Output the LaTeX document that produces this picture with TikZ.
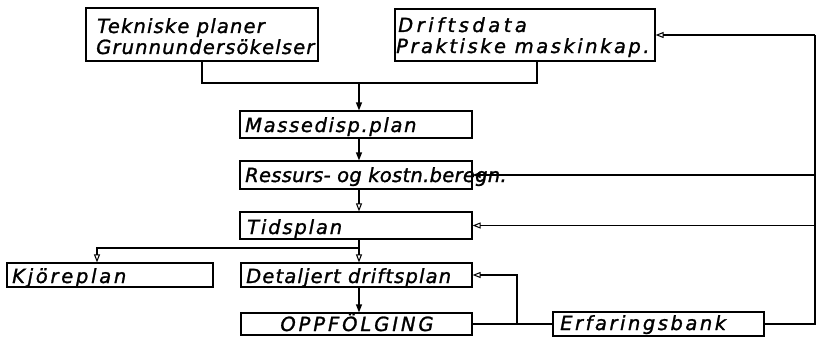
\documentclass[tikz,border=0pt]{standalone}
\usepackage{fontspec}
\newfontfamily\letterfont{DejaVu Sans Oblique}[FakeBold=1.3]
\usetikzlibrary{arrows.meta,calc}
% letter-spaced run of lettering
\newcommand{\spaced}[2]{{\addfontfeatures{LetterSpace=#1}#2}}
\tikzset{
  box/.style={draw, line width=1.2pt, rectangle, inner sep=0pt},
  lettering/.style={inner sep=0pt, font=\fontsize{19.5}{19.5}\letterfont},
  wire/.style={line width=1.2pt},
  openarr/.style={wire, -{Triangle[open,length=8pt,width=6pt,line width=1pt]}},
  fullarr/.style={wire, -{Triangle[length=8pt,width=6pt]}},
}
\begin{document}
\begin{tikzpicture}[x=1pt,y=-1pt]
\useasboundingbox (0,0) rectangle (816,337);

% boxes
\node[box, minimum width=232pt, minimum height=53pt] (tek)   at (202,34.5) {};
\node[box, minimum width=260pt, minimum height=52pt] (drift) at (525,35) {};
\node[box, minimum width=232pt, minimum height=27pt] (mass)  at (356,124.5) {};
\node[box, minimum width=232pt, minimum height=28pt] (ress)  at (356,175) {};
\node[box, minimum width=232pt, minimum height=27pt] (tids)  at (356,225.5) {};
\node[box, minimum width=206pt, minimum height=24pt] (kjor)  at (110,275) {};
\node[box, minimum width=231pt, minimum height=24pt] (detal) at (356.5,275) {};
\node[box, minimum width=231pt, minimum height=22pt] (oppf)  at (356.5,324) {};
\node[box, minimum width=211pt, minimum height=24pt] (erf)   at (658.5,324) {};

% lettering
\node[lettering, anchor=base west] (tekA) at (97,33) {\spaced{6}{Tekniske planer}};
\node[lettering, anchor=base west] (tekB) at (96,54) {\spaced{6}{Grunnundersökelser}};
\node[lettering, anchor=base west] (drA) at (398,32) {\spaced{18}{Driftsdata}};
\node[lettering, anchor=base west] (drB) at (396,53) {\spaced{13}{Praktiske maskinkap.}};
\node[lettering, anchor=base west] (massT) at (245,132) {\spaced{8.5}{Massedisp.plan}};
\node[lettering, anchor=base west] (ressT) at (245,182) {\spaced{1.5}{Ressurs- og kostn.beregn.}};
\node[lettering, anchor=base west] (tidsT) at (247,234) {\spaced{9.5}{Tidsplan}};
\node[lettering, anchor=base west] (kjorT) at (12,283) {\spaced{14}{Kjöreplan}};
\node[lettering, anchor=base west] (detalT) at (246,283) {\spaced{6}{Detaljert driftsplan}};
\node[lettering, anchor=base] (oppfT) at (357,331) {\spaced{15}{OPPFÖLGING}};
\node[lettering, anchor=base west] (erfT) at (560,330) {\spaced{13}{Erfaringsbank}};

% junction points of the connectors
\coordinate (join) at (359,83);
\coordinate (br) at (359,248);
\coordinate (kdrop) at (97,248);
\coordinate (fb) at (517,324);
\coordinate (rtop) at (815,35);

% inputs merge into the mass plan
\draw[wire] (tek.south) |- (join) -| ([xshift=12pt]drift.south);
\draw[fullarr] (join) -- (join |- mass.north);

% main chain
\draw[fullarr] (mass.south -| join) -- (ress.north -| join);
\draw[openarr] (ress.south -| join) -- (tids.north -| join);
\draw[wire] (tids.south -| br) -- (br);
\draw[openarr] (br) -- (kdrop) -- (kdrop |- kjor.north);
\draw[openarr] (br) -- (br |- detal.north);
\draw[fullarr] (detal.south -| join) -- (oppf.north -| join);

% follow-up and feedback
\draw[wire] (oppf.east) -- (erf.west);
\draw[openarr] (fb) |- (detal.east);
\draw[wire] (erf.east) -| (rtop);
\draw[openarr] (rtop) -- (drift.east);
\draw[fullarr] (ress.east -| rtop) -- (ress.east);
\draw[openarr] (tids.east -| rtop) -- (tids.east);
\end{tikzpicture}
\end{document}
